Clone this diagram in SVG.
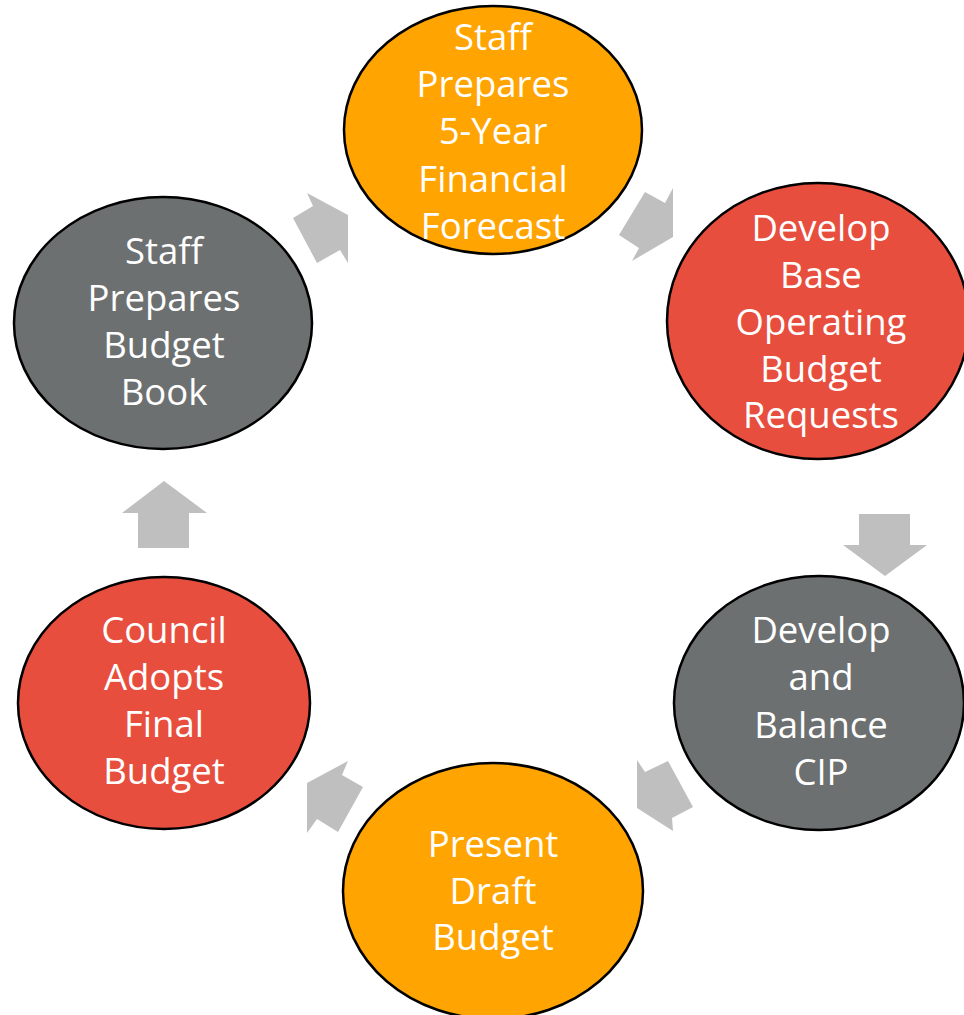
<svg xmlns="http://www.w3.org/2000/svg" width="964" height="1015" viewBox="0 0 964 1015">
<style>
.n{stroke:#000;stroke-width:2.5}
.o{fill:#FFA400}
.r{fill:#E74E3E}
.g{fill:#6D7070}
.t{fill:#fff;font-family:"Open Sans","Liberation Sans",sans-serif;font-size:36.5px;text-anchor:middle}
.a{fill:#BFBFBF}
</style>
<rect width="964" height="1015" fill="#fff"/>
<g id="connectors">
<polygon class="a" points="293,218 313,206 307,193 348,215 348,263 340,250 317,263"/>
<polygon class="a" points="619,235 645,192 665,203 673,188 673,237 632,261 639,248"/>
<polygon class="a" points="859,514 910,514 910,545 927,545 885,576 843,545 859,545"/>
<polygon class="a" points="637,760 645,772 668,761 693,807 672,818 673,831 637,808"/>
<polygon class="a" points="348,761 342,775 363,787 338,832 317,819 307,833 307,783"/>
<polygon class="a" points="164,481 207,513 189,513 189,548 138,548 138,513 122,513"/>
</g>
<g id="n1">
<ellipse class="n o" cx="493" cy="130" rx="149" ry="124"/>
<text class="t"><tspan x="493" y="50">Staff</tspan><tspan x="493" y="97">Prepares</tspan><tspan x="493" y="144">5-Year</tspan><tspan x="493" y="192">Financial</tspan><tspan x="493" y="239">Forecast</tspan></text>
</g>
<g id="n2">
<ellipse class="n r" cx="818" cy="321" rx="151" ry="138"/>
<text class="t"><tspan x="821" y="241">Develop</tspan><tspan x="821" y="288">Base</tspan><tspan x="821" y="335">Operating</tspan><tspan x="821" y="382">Budget</tspan><tspan x="821" y="428">Requests</tspan></text>
</g>
<g id="n3">
<ellipse class="n g" cx="819" cy="703" rx="145" ry="127"/>
<text class="t"><tspan x="821" y="643">Develop</tspan><tspan x="821" y="690">and</tspan><tspan x="821" y="738">Balance</tspan><tspan x="821" y="785">CIP</tspan></text>
</g>
<g id="n4">
<ellipse class="n o" cx="493" cy="891" rx="150" ry="128"/>
<text class="t"><tspan x="493" y="857">Present</tspan><tspan x="493" y="904">Draft</tspan><tspan x="493" y="950">Budget</tspan></text>
</g>
<g id="n5">
<ellipse class="n r" cx="164" cy="703" rx="146" ry="126"/>
<text class="t"><tspan x="164" y="643">Council</tspan><tspan x="164" y="690">Adopts</tspan><tspan x="164" y="737">Final</tspan><tspan x="164" y="784">Budget</tspan></text>
</g>
<g id="n6">
<ellipse class="n g" cx="163" cy="323" rx="149" ry="126"/>
<text class="t"><tspan x="164" y="264">Staff</tspan><tspan x="164" y="311">Prepares</tspan><tspan x="164" y="358">Budget</tspan><tspan x="164" y="405">Book</tspan></text>
</g>
</svg>
